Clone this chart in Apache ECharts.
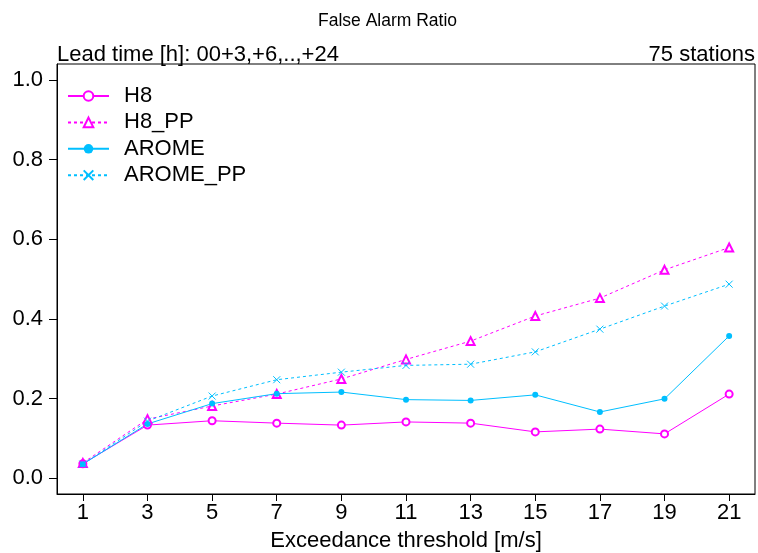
<!DOCTYPE html>
<html><head><meta charset="utf-8">
<script src="https://cdn.jsdelivr.net/npm/echarts@6/dist/echarts.min.js"></script>
<style>html,body{margin:0;padding:0;background:#fff}#c{width:758px;height:553px}</style>
</head><body><div id="c"></div>
<script>
const thresholds = [1, 3, 5, 7, 9, 11, 13, 15, 17, 19, 21];
const h8 =      [0.036, 0.133, 0.144, 0.138, 0.133, 0.141, 0.138, 0.116, 0.123, 0.111, 0.211];
const h8pp =    [0.038, 0.148, 0.181, 0.211, 0.249, 0.298, 0.344, 0.407, 0.452, 0.523, 0.579];
const arome =   [0.035, 0.136, 0.187, 0.212, 0.216, 0.197, 0.195, 0.209, 0.166, 0.199, 0.357];
const aromepp = [0.035, 0.143, 0.206, 0.247, 0.266, 0.283, 0.286, 0.317, 0.374, 0.432, 0.487];
const yTicks = [0, 0.2, 0.4, 0.6, 0.8, 1.0];
const seriesNames = ['H8', 'H8_PP', 'AROME', 'AROME_PP'];

const MAG = '#FF00FF', CYAN = '#00BFFF';
const FONT = '"Liberation Sans", Arial, sans-serif';
const pair = arr => thresholds.map((t, i) => [t, arr[i]]);

const chart = echarts.init(document.getElementById('c'), null, {renderer: 'canvas'});
chart.setOption({
  animation: false,
  backgroundColor: '#fff',
  textStyle: {fontFamily: FONT},
  grid: {left: 57, right: 3, top: 64, bottom: 59, containLabel: false, outerBoundsMode: 'none',
         show: true, borderColor: '#000', borderWidth: 1, backgroundColor: 'transparent'},
  graphic: [
    {type: 'text', left: 318, top: 12, style: {text: 'False Alarm Ratio', font: '17.5px ' + FONT, fill: '#000'}},
    {type: 'text', left: 57, top: 44, style: {text: 'Lead time [h]: 00+3,+6,..,+24', font: '22px ' + FONT, fill: '#000'}},
    {type: 'text', right: 3, top: 44, style: {text: '75 stations', font: '22px ' + FONT, fill: '#000'}}
  ],
  legend: {
    orient: 'vertical', left: 62, top: 80, itemWidth: 41, itemHeight: 12, itemGap: 4.4,
    textStyle: {fontSize: 22, fontFamily: FONT, color: '#000', padding: [0, 0, 0, 10]},
    data: seriesNames
  },
  xAxis: {
    type: 'value', min: 0.2, max: 21.8,
    name: 'Exceedance threshold [m/s]', nameLocation: 'middle', nameGap: 36,
    nameTextStyle: {fontSize: 22, fontFamily: FONT, color: '#000'},
    axisLine: {show: true, onZero: false, lineStyle: {color: '#000'}},
    axisTick: {show: true, length: 7, lineStyle: {color: '#000'}, customValues: thresholds},
    axisLabel: {fontSize: 22, fontFamily: FONT, color: '#000', margin: 8, customValues: thresholds},
    splitLine: {show: false}
  },
  yAxis: {
    type: 'value', min: -0.04, max: 1.04,
    axisLine: {show: true, onZero: false, lineStyle: {color: '#000'}},
    axisTick: {show: true, length: 8, lineStyle: {color: '#000'}, customValues: yTicks},
    axisLabel: {fontSize: 22, fontFamily: FONT, color: '#000', margin: 14, customValues: yTicks,
      formatter: v => v.toFixed(1)},
    splitLine: {show: false}
  },
  series: [
    {name: 'H8', type: 'line', data: pair(h8), symbol: 'emptyCircle', symbolSize: 7,
     color: MAG, lineStyle: {color: MAG, width: 1}, itemStyle: {color: MAG, borderColor: MAG, borderWidth: 1}},
    {name: 'H8_PP', type: 'line', data: pair(h8pp), symbol: 'emptyTriangle', symbolSize: 8,
     color: MAG, lineStyle: {color: MAG, width: 1, type: [3, 3]}, itemStyle: {color: MAG, borderColor: MAG, borderWidth: 1}},
    {name: 'AROME', type: 'line', data: pair(arome), symbol: 'circle', symbolSize: 6,
     color: CYAN, lineStyle: {color: CYAN, width: 1}, itemStyle: {color: CYAN}},
    {name: 'AROME_PP', type: 'line', data: pair(aromepp), symbol: 'path://M0,0L10,10M10,0L0,10', symbolSize: 7,
     color: CYAN, lineStyle: {color: CYAN, width: 1, type: [3, 3]}, itemStyle: {color: 'none', borderColor: CYAN, borderWidth: 1}}
  ]
});
</script></body></html>
